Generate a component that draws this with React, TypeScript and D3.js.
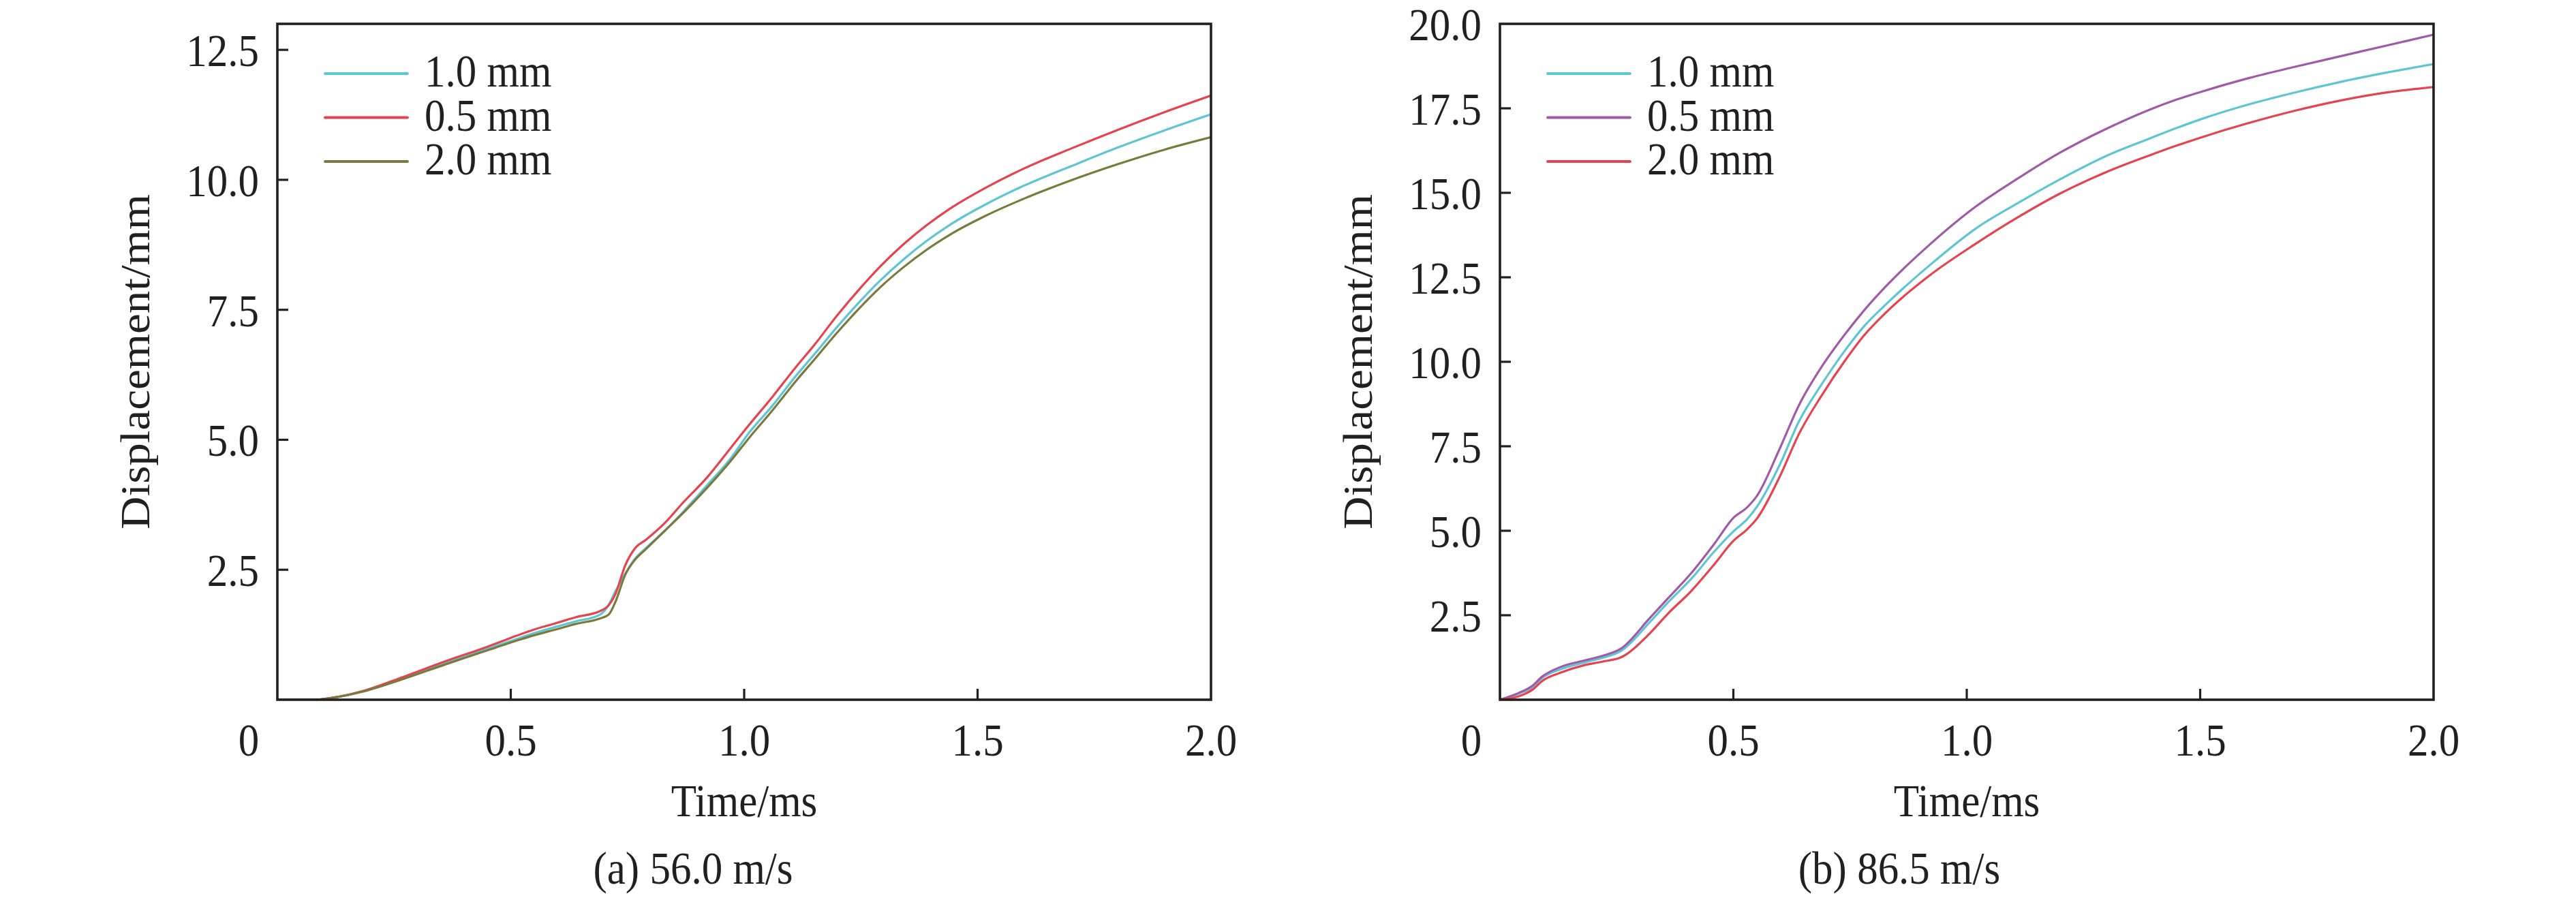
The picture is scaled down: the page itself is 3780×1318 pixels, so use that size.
import React, { useEffect } from 'react';
import * as d3 from 'd3';

// ---- data ----
const timeA = [0, 0.08, 0.12, 0.18, 0.27, 0.36, 0.45, 0.5, 0.55, 0.6, 0.64, 0.69, 0.71, 0.725, 0.745, 0.765, 0.79, 0.83, 0.87, 0.92, 0.97, 1.01, 1.06, 1.11, 1.15, 1.2, 1.25, 1.29, 1.34, 1.39, 1.44, 1.52, 1.6, 1.7, 1.8, 1.9, 2.0];
const a10 = [0, 0, 0.04, 0.15, 0.41, 0.7, 0.98, 1.13, 1.28, 1.41, 1.51, 1.63, 1.83, 2.1, 2.42, 2.7, 2.92, 3.25, 3.62, 4.12, 4.63, 5.13, 5.65, 6.22, 6.64, 7.18, 7.68, 8.05, 8.46, 8.82, 9.13, 9.54, 9.89, 10.26, 10.62, 10.95, 11.26];
const a05 = [0, 0, 0.04, 0.16, 0.44, 0.74, 1.02, 1.19, 1.35, 1.48, 1.59, 1.7, 1.82, 2.05, 2.58, 2.9, 3.08, 3.4, 3.8, 4.27, 4.83, 5.28, 5.82, 6.39, 6.82, 7.4, 7.93, 8.32, 8.75, 9.12, 9.44, 9.86, 10.22, 10.6, 10.96, 11.3, 11.62];
const a20 = [0, 0, 0.04, 0.15, 0.4, 0.68, 0.95, 1.1, 1.24, 1.36, 1.46, 1.56, 1.64, 1.9, 2.4, 2.68, 2.9, 3.25, 3.6, 4.07, 4.58, 5.03, 5.56, 6.12, 6.54, 7.07, 7.56, 7.92, 8.31, 8.65, 8.94, 9.32, 9.64, 9.99, 10.3, 10.58, 10.82];

const timeB = [0, 0.04, 0.07, 0.09, 0.13, 0.18, 0.22, 0.26, 0.32, 0.36, 0.41, 0.46, 0.5, 0.53, 0.55, 0.6, 0.64, 0.69, 0.74, 0.78, 0.83, 0.92, 1.02, 1.11, 1.2, 1.3, 1.39, 1.45, 1.5, 1.6, 1.7, 1.8, 1.9, 2.0];
const b10 = [0, 0.18, 0.38, 0.64, 0.9, 1.1, 1.24, 1.45, 2.28, 2.88, 3.58, 4.4, 4.98, 5.35, 5.7, 6.97, 8.22, 9.35, 10.35, 11.05, 11.74, 12.85, 13.95, 14.7, 15.4, 16.1, 16.6, 16.92, 17.17, 17.6, 17.96, 18.28, 18.56, 18.81];
const b05 = [0, 0.2, 0.42, 0.68, 0.97, 1.16, 1.3, 1.52, 2.4, 3.0, 3.75, 4.63, 5.38, 5.7, 6.02, 7.45, 8.7, 9.87, 10.83, 11.52, 12.28, 13.46, 14.6, 15.43, 16.19, 16.9, 17.45, 17.76, 17.98, 18.38, 18.72, 19.04, 19.36, 19.68];
const b20 = [0, 0.1, 0.3, 0.55, 0.8, 1.02, 1.13, 1.26, 1.95, 2.55, 3.22, 4.02, 4.7, 5.05, 5.35, 6.62, 7.85, 9.02, 10.05, 10.78, 11.5, 12.55, 13.5, 14.28, 14.98, 15.62, 16.1, 16.4, 16.63, 17.05, 17.42, 17.73, 17.97, 18.13];

const xTicks = [0.5, 1.0, 1.5, 2.0];
const yTicksA = [2.5, 5, 7.5, 10, 12.5];
const yTicksB = [2.5, 5, 7.5, 10, 12.5, 15, 17.5, 20];

const namesA = ['1.0 mm', '0.5 mm', '2.0 mm'];
const namesB = ['1.0 mm', '0.5 mm', '2.0 mm'];

const FONT = '"Liberation Serif", "Times New Roman", Times, serif';
const INK = '#231f20';

type Series = { name: string; color: string; values: number[] };

// text is drawn a bit taller than wide, like the reference
const Label: React.FC<{ x: number; y: number; anchor?: string; rotate?: boolean; children: React.ReactNode }> = ({ x, y, anchor = 'middle', rotate, children }) => (
  <text
    transform={`translate(${x},${y}) scale(1,1.1)${rotate ? ' rotate(-90)' : ''}`}
    textAnchor={anchor}
    fontFamily={FONT}
    fontSize={61}
    fill={INK}
  >
    {children}
  </text>
);

interface PanelProps {
  left: number;
  yMax: number;
  yTicks: number[];
  time: number[];
  series: Series[];
  caption: string;
  captionX: number;
}

const Panel: React.FC<PanelProps> = ({ left, yMax, yTicks, time, series, caption, captionX }) => {
  const top = 35;
  const bottom = 1027;
  const width = 1370;
  const x = d3.scaleLinear().domain([0, 2]).range([left, left + width]);
  const y = d3.scaleLinear().domain([0, yMax]).range([bottom, top]);
  const line = d3
    .line<number>()
    .x((_, i) => x(time[i]))
    .y((d) => y(d))
    .curve(d3.curveMonotoneX);
  const clipId = `clip-${left}`;
  const tickLen = 16;

  return (
    <g>
      <defs>
        <clipPath id={clipId}>
          <rect x={left} y={top} width={width} height={bottom - top} />
        </clipPath>
      </defs>

      {/* curves */}
      <g clipPath={`url(#${clipId})`}>
        {series.map((s) => (
          <path key={s.name + s.color} d={line(s.values) || ''} fill="none" stroke={s.color} strokeWidth={3.2} strokeLinejoin="round" />
        ))}
      </g>

      {/* frame */}
      <rect x={left} y={top} width={width} height={bottom - top} fill="none" stroke={INK} strokeWidth={3.6} />

      {/* y ticks */}
      {yTicks.map((t) => (
        <g key={'y' + t}>
          {t < yMax && <line x1={left} x2={left + tickLen} y1={y(t)} y2={y(t)} stroke={INK} strokeWidth={3.2} />}
          <Label x={left - 27} y={y(t) + 24} anchor="end">
            {t.toFixed(1)}
          </Label>
        </g>
      ))}

      {/* x ticks */}
      {xTicks.map((t) => (
        <g key={'x' + t}>
          {t < 2 && <line x1={x(t)} x2={x(t)} y1={bottom} y2={bottom - tickLen} stroke={INK} strokeWidth={3.2} />}
          <Label x={x(t)} y={1109}>
            {t.toFixed(1)}
          </Label>
        </g>
      ))}
      <Label x={left - 42} y={1109}>0</Label>

      {/* axis titles */}
      <Label x={x(1)} y={1198}>Time/ms</Label>
      <Label x={left - 188} y={(top + bottom) / 2} rotate>
        Displacement/mm
      </Label>
      <Label x={captionX} y={1297}>{caption}</Label>

      {/* legend */}
      {series.map((s, i) => {
        const ly = 108 + i * 64.5;
        return (
          <g key={'lg' + s.name}>
            <line x1={left + 70} x2={left + 191} y1={ly} y2={ly} stroke={s.color} strokeWidth={3.8} strokeLinecap="round" />
            <Label x={left + 216} y={ly + 19} anchor="start">
              {s.name}
            </Label>
          </g>
        );
      })}
    </g>
  );
};

export default function App() {
  useEffect(() => {
    document.body.style.margin = '0';
  }, []);

  const seriesA: Series[] = [
    { name: namesA[0], color: '#5ec5d3', values: a10 },
    { name: namesA[1], color: '#e5434f', values: a05 },
    { name: namesA[2], color: '#7a7a3c', values: a20 },
  ];
  const seriesB: Series[] = [
    { name: namesB[0], color: '#5ec5d3', values: b10 },
    { name: namesB[1], color: '#a05aa8', values: b05 },
    { name: namesB[2], color: '#e5434f', values: b20 },
  ];

  return (
    <svg width={3780} height={1318} style={{ display: 'block', background: '#fff' }}>
      <rect width={3780} height={1318} fill="#fff" />
      <Panel left={407} yMax={13} yTicks={yTicksA} time={timeA} series={seriesA} caption="(a) 56.0 m/s" captionX={1017} />
      <Panel left={2201} yMax={20} yTicks={yTicksB} time={timeB} series={seriesB} caption="(b) 86.5 m/s" captionX={2787} />
    </svg>
  );
}
